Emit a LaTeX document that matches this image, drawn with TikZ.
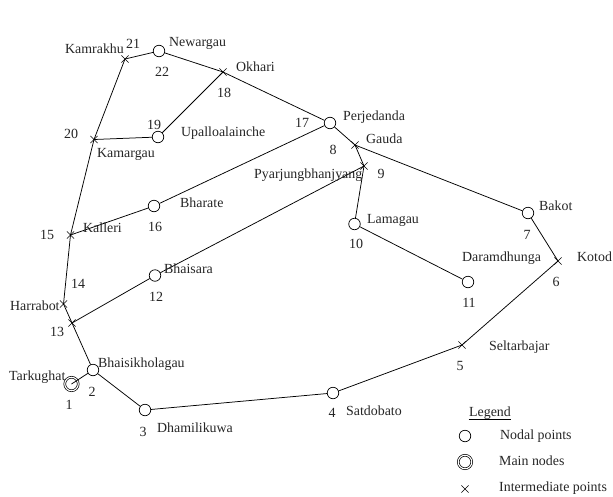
\documentclass[tikz,border=0pt]{standalone}
\usepackage{fontspec}
\setmainfont{Liberation Serif}
\usetikzlibrary{shapes.misc}
\tikzset{
  nodal/.style={circle,draw=black,line width=0.7pt,inner sep=0pt,minimum size=11.5pt},
  mainnode/.style={circle,draw=black,line width=0.7pt,double,double distance=1.1pt,inner sep=0pt,minimum size=13.5pt},
  inter/.style={cross out,draw=black,line width=0.6pt,inner sep=0pt,minimum size=6.5pt},
  lbl/.style={inner sep=0pt,font=\fontsize{13.9}{15}\selectfont,text=black!85,anchor=base west},
  num/.style={inner sep=0pt,font=\fontsize{14}{15}\selectfont,text=black!85,anchor=base},
  link/.style={draw=black,line width=0.75pt}
}
\begin{document}
\begin{tikzpicture}[x=1pt,y=-1pt]
\useasboundingbox (0,0) rectangle (613,496);
\fill[white] (0,0) rectangle (613,496);
% points
\node[nodal] (n2) at (93,370) {};
\node[nodal] (n3) at (145,410) {};
\node[nodal] (n4) at (333,393) {};
\node[inter] (n5) at (462,345) {};
\node[inter] (n6) at (558,261) {};
\node[nodal] (n7) at (528,213) {};
\node[nodal] (n8) at (330,123) {};
\node[inter] (ng) at (355,145) {};
\node[inter] (n9) at (364,166) {};
\node[nodal] (n10) at (354.5,224) {};
\node[nodal] (n11) at (468,282) {};
\node[nodal] (n12) at (155,275.5) {};
\node[inter] (n13) at (72,323) {};
\node[inter] (n14) at (63.5,304) {};
\node[inter] (n15) at (70.5,235) {};
\node[nodal] (n16) at (154,206) {};
\node[inter] (n18) at (223,72) {};
\node[nodal] (n19) at (158,137) {};
\node[inter] (n20) at (94,139.5) {};
\node[inter] (n21) at (125,59) {};
\node[nodal] (n22) at (159,51) {};
\node[mainnode] (n1) at (71.5,384) {};
% connectors
\draw[link] (n1.center) -- (n2);
\draw[link] (n2) -- (n13.center) -- (n14.center) -- (n15.center) -- (n20.center) -- (n21.center) -- (n22);
\draw[link] (n22) -- (n18.center) -- (n8);
\draw[link] (n8) -- (ng.center) -- (n7);
\draw[link] (n7) -- (n6.center) -- (n5.center) -- (n4);
\draw[link] (n4) -- (n3);
\draw[link] (n3) -- (n2);
\draw[link] (n20.center) -- (n19);
\draw[link] (n19) -- (n18.center);
\draw[link] (n15.center) -- (n16);
\draw[link] (n16) -- (n8);
\draw[link] (n13.center) -- (n12);
\draw[link] (n12) -- (n9.center);
\draw[link] (ng.center) -- (n9.center) -- (n10);
\draw[link] (n10) -- (n11);
% place names
\node[lbl] (t1) at (9,380) {Tarkughat};
\node[lbl] (t2) at (98,367) {Bhaisikholagau};
\node[lbl] (t3) at (157,432) {Dhamilikuwa};
\node[lbl] (t4) at (346,415) {Satdobato};
\node[lbl] (t5) at (489,350) {Seltarbajar};
\node[lbl] (t6) at (577,261) {Kotod};
\node[lbl] (t7) at (539,210) {Bakot};
\node[lbl] (t8) at (343,120) {Perjedanda};
\node[lbl] (tg) at (366,143) {Gauda};
\node[lbl] (t9) at (254,178) {Pyarjungbhanjyang};
\node[lbl] (t10) at (367,223) {Lamagau};
\node[lbl] (t11) at (462,261) {Daramdhunga};
\node[lbl] (t12) at (164,273) {Bhaisara};
\node[lbl] (t13) at (83,232) {Kalleri};
\node[lbl] (t14) at (10,310) {Harrabot};
\node[lbl] (t15) at (180,207) {Bharate};
\node[lbl] (t18) at (236,71) {Okhari};
\node[lbl] (t19) at (181,136) {Upalloalainche};
\node[lbl] (t20) at (97,157) {Kamargau};
\node[lbl] (t21) at (65,53) {Kamrakhu};
\node[lbl] (t22) at (169,46) {Newargau};
% numbers
\node[num] (d1) at (69,409) {1};
\node[num] (d2) at (92,396) {2};
\node[num] (d3) at (143,436) {3};
\node[num] (d4) at (332,417) {4};
\node[num] (d5) at (460,370) {5};
\node[num] (d6) at (556,286) {6};
\node[num] (d7) at (527,239) {7};
\node[num] (d8) at (333,154) {8};
\node[num] (d9) at (381,178) {9};
\node[num] (d10) at (356,248) {10};
\node[num] (d11) at (469,307) {11};
\node[num] (d12) at (156,301) {12};
\node[num] (d13) at (57,336) {13};
\node[num] (d14) at (78,288) {14};
\node[num] (d15) at (47,239) {15};
\node[num] (d16) at (155,231) {16};
\node[num] (d17) at (302,127) {17};
\node[num] (d18) at (224,97) {18};
\node[num] (d19) at (154,129) {19};
\node[num] (d20) at (71,138) {20};
\node[num] (d21) at (133,48) {21};
\node[num] (d22) at (162,76) {22};
% legend
\node[lbl] (lg) at (469,416) {Legend};
\coordinate (la) at (468.5,419);
\coordinate (lb) at (511,419);
\draw[draw=black,line width=0.6pt] (la) -- (lb);
\node[nodal] (ln) at (465,436) {};
\node[mainnode] (lm) at (465,462) {};
\node[inter] (li) at (465,489) {};
\node[lbl] (l1) at (500,439) {Nodal points};
\node[lbl] (l2) at (499,465) {Main nodes};
\node[lbl] (l3) at (499,491) {Intermediate points};
\end{tikzpicture}
\end{document}
